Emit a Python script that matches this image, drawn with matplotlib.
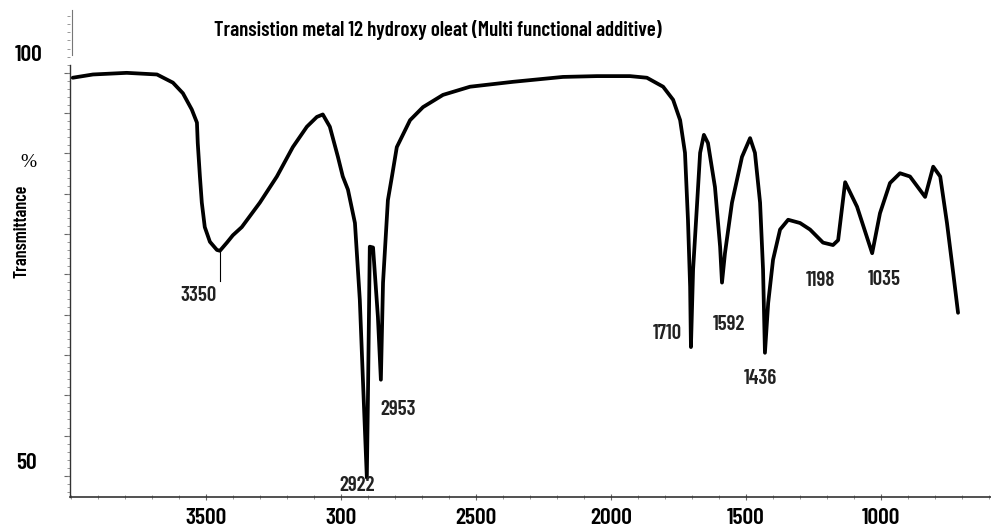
import numpy as np
import matplotlib
matplotlib.use('Agg')
import matplotlib.pyplot as plt
from matplotlib.ticker import MultipleLocator

plt.rcParams['font.family'] = ['Barlow Condensed', 'DejaVu Sans']
plt.rcParams['font.weight'] = 'semibold'

# IR spectrum (wavenumber cm-1, % transmittance)
wavenumber = [3993, 3918, 3793, 3681, 3622, 3585, 3552, 3533, 3530, 3522,
              3515, 3504, 3485, 3459, 3448, 3422, 3400, 3367, 3300, 3237,
              3178, 3126, 3089, 3067, 3041, 3011, 2993, 2974, 2948, 2930,
              2918, 2904, 2900, 2893, 2881, 2863, 2852, 2844, 2826, 2811,
              2793, 2744, 2696, 2622, 2522, 2363, 2178, 2052, 1930, 1867,
              1807, 1770, 1744, 1726, 1715, 1707, 1704, 1696, 1681, 1670,
              1656, 1641, 1615, 1596, 1589, 1578, 1552, 1515, 1485, 1467,
              1448, 1437, 1430, 1418, 1400, 1374, 1344, 1300, 1263, 1215,
              1178, 1159, 1144, 1133, 1089, 1033, 1004, 967, 930, 893,
              837, 807, 781, 756, 733, 715]
transmittance = [97.2, 97.6, 97.8, 97.6, 96.6, 95.3, 93.3, 91.7, 89.2, 85.1,
                 81.9, 78.9, 77.1, 76.1, 76.0, 77.0, 77.9, 78.9, 81.9, 85.1,
                 88.7, 91.2, 92.4, 92.7, 91.2, 87.5, 85.1, 83.5, 79.4, 70.0,
                 59.8, 48.2, 57.7, 76.5, 76.4, 67.9, 60.2, 72.1, 82.2, 85.1,
                 88.7, 92.0, 93.6, 95.1, 96.1, 96.7, 97.3, 97.4, 97.4, 97.2,
                 96.1, 94.5, 92.0, 88.0, 79.8, 71.6, 64.2, 73.7, 81.9, 88.0,
                 90.2, 89.2, 83.8, 76.5, 72.1, 75.7, 81.9, 87.5, 89.8, 88.0,
                 81.9, 73.7, 63.5, 69.6, 74.9, 78.6, 79.8, 79.4, 78.6, 77.0,
                 76.7, 77.3, 81.4, 84.4, 81.4, 75.7, 80.6, 84.3, 85.5, 85.1,
                 82.6, 86.3, 85.1, 79.4, 73.3, 68.4]

# peak labels: text, x, y
peak_text = ['3350', '2922', '2953', '1710', '1592', '1436', '1198', '1035']
peak_x = [3526, 2941, 2789, 1793, 1563, 1448, 1226, 989]
peak_y = [70.5, 47.2, 56.6, 65.9, 67.0, 60.3, 72.3, 72.5]

xtick_pos = [3500, 3000, 2500, 2000, 1500, 1000]
xtick_labels = ['3500', '300', '2500', '2000', '1500', '1000']

fig = plt.figure(figsize=(9.91, 5.32), dpi=100)
ax = fig.add_axes([70 / 991, 1 - 497 / 532, 921 / 991, 487 / 532])

ax.plot(wavenumber, transmittance, color='black', lw=2.7,
        solid_joinstyle='round', solid_capstyle='round')

ax.set_xlim(4003, 593)
ax.set_ylim(45.83, 105.5)

for s in ['top', 'right']:
    ax.spines[s].set_visible(False)
ax.spines['left'].set_bounds(45.83, 98.8)
ax.spines['left'].set_color('#333333')
ax.spines['bottom'].set_color('#333333')
ax.spines['left'].set_linewidth(1.0)
ax.spines['bottom'].set_linewidth(1.2)

# broken bit of the axis above the 100 mark
ax.plot([3996, 3996], [100.0, 105.5], color='#777777', lw=0.8, clip_on=False)

ax.set_xticks(xtick_pos)
ax.set_xticklabels(xtick_labels, fontsize=17)
ax.xaxis.set_minor_locator(MultipleLocator(100))
ax.tick_params(axis='x', which='major', direction='inout', length=4, width=0.8,
               color='#666666', pad=6)
ax.tick_params(axis='x', which='minor', direction='inout', length=3, width=0.6,
               color='#888888')

ax.set_yticks(np.arange(48.4, 99, 4.94))
ax.set_yticklabels([])
ax.yaxis.set_minor_locator(MultipleLocator(0.988))
ax.tick_params(axis='y', which='major', direction='out', length=4, width=0.8,
               color='#666666')
ax.tick_params(axis='y', which='minor', direction='out', length=2, width=0.6,
               color='#888888')

for t, x, y in zip(peak_text, peak_x, peak_y):
    ax.text(x, y, t, fontsize=15, ha='center', va='center', color='#222222')

# leader line for 3350
ax.plot([3448, 3448], [75.8, 72.3], color='black', lw=0.8)

fig.text(0.442, 0.944, 'Transistion metal 12 hydroxy oleat (Multi functional additive)',
         fontsize=15, ha='center', va='center')
fig.text(0.029, 0.897, '100', fontsize=17, ha='center', va='center')
fig.text(0.027, 0.130, '50', fontsize=17, ha='center', va='center')
fig.text(0.029, 0.694, '%', fontsize=14, ha='center', va='center',
         family='Liberation Serif', weight='normal')
fig.text(0.022, 0.566, 'Transmittance', fontsize=13, rotation=90,
         ha='center', va='center')

fig.savefig('out.png', dpi=100)
